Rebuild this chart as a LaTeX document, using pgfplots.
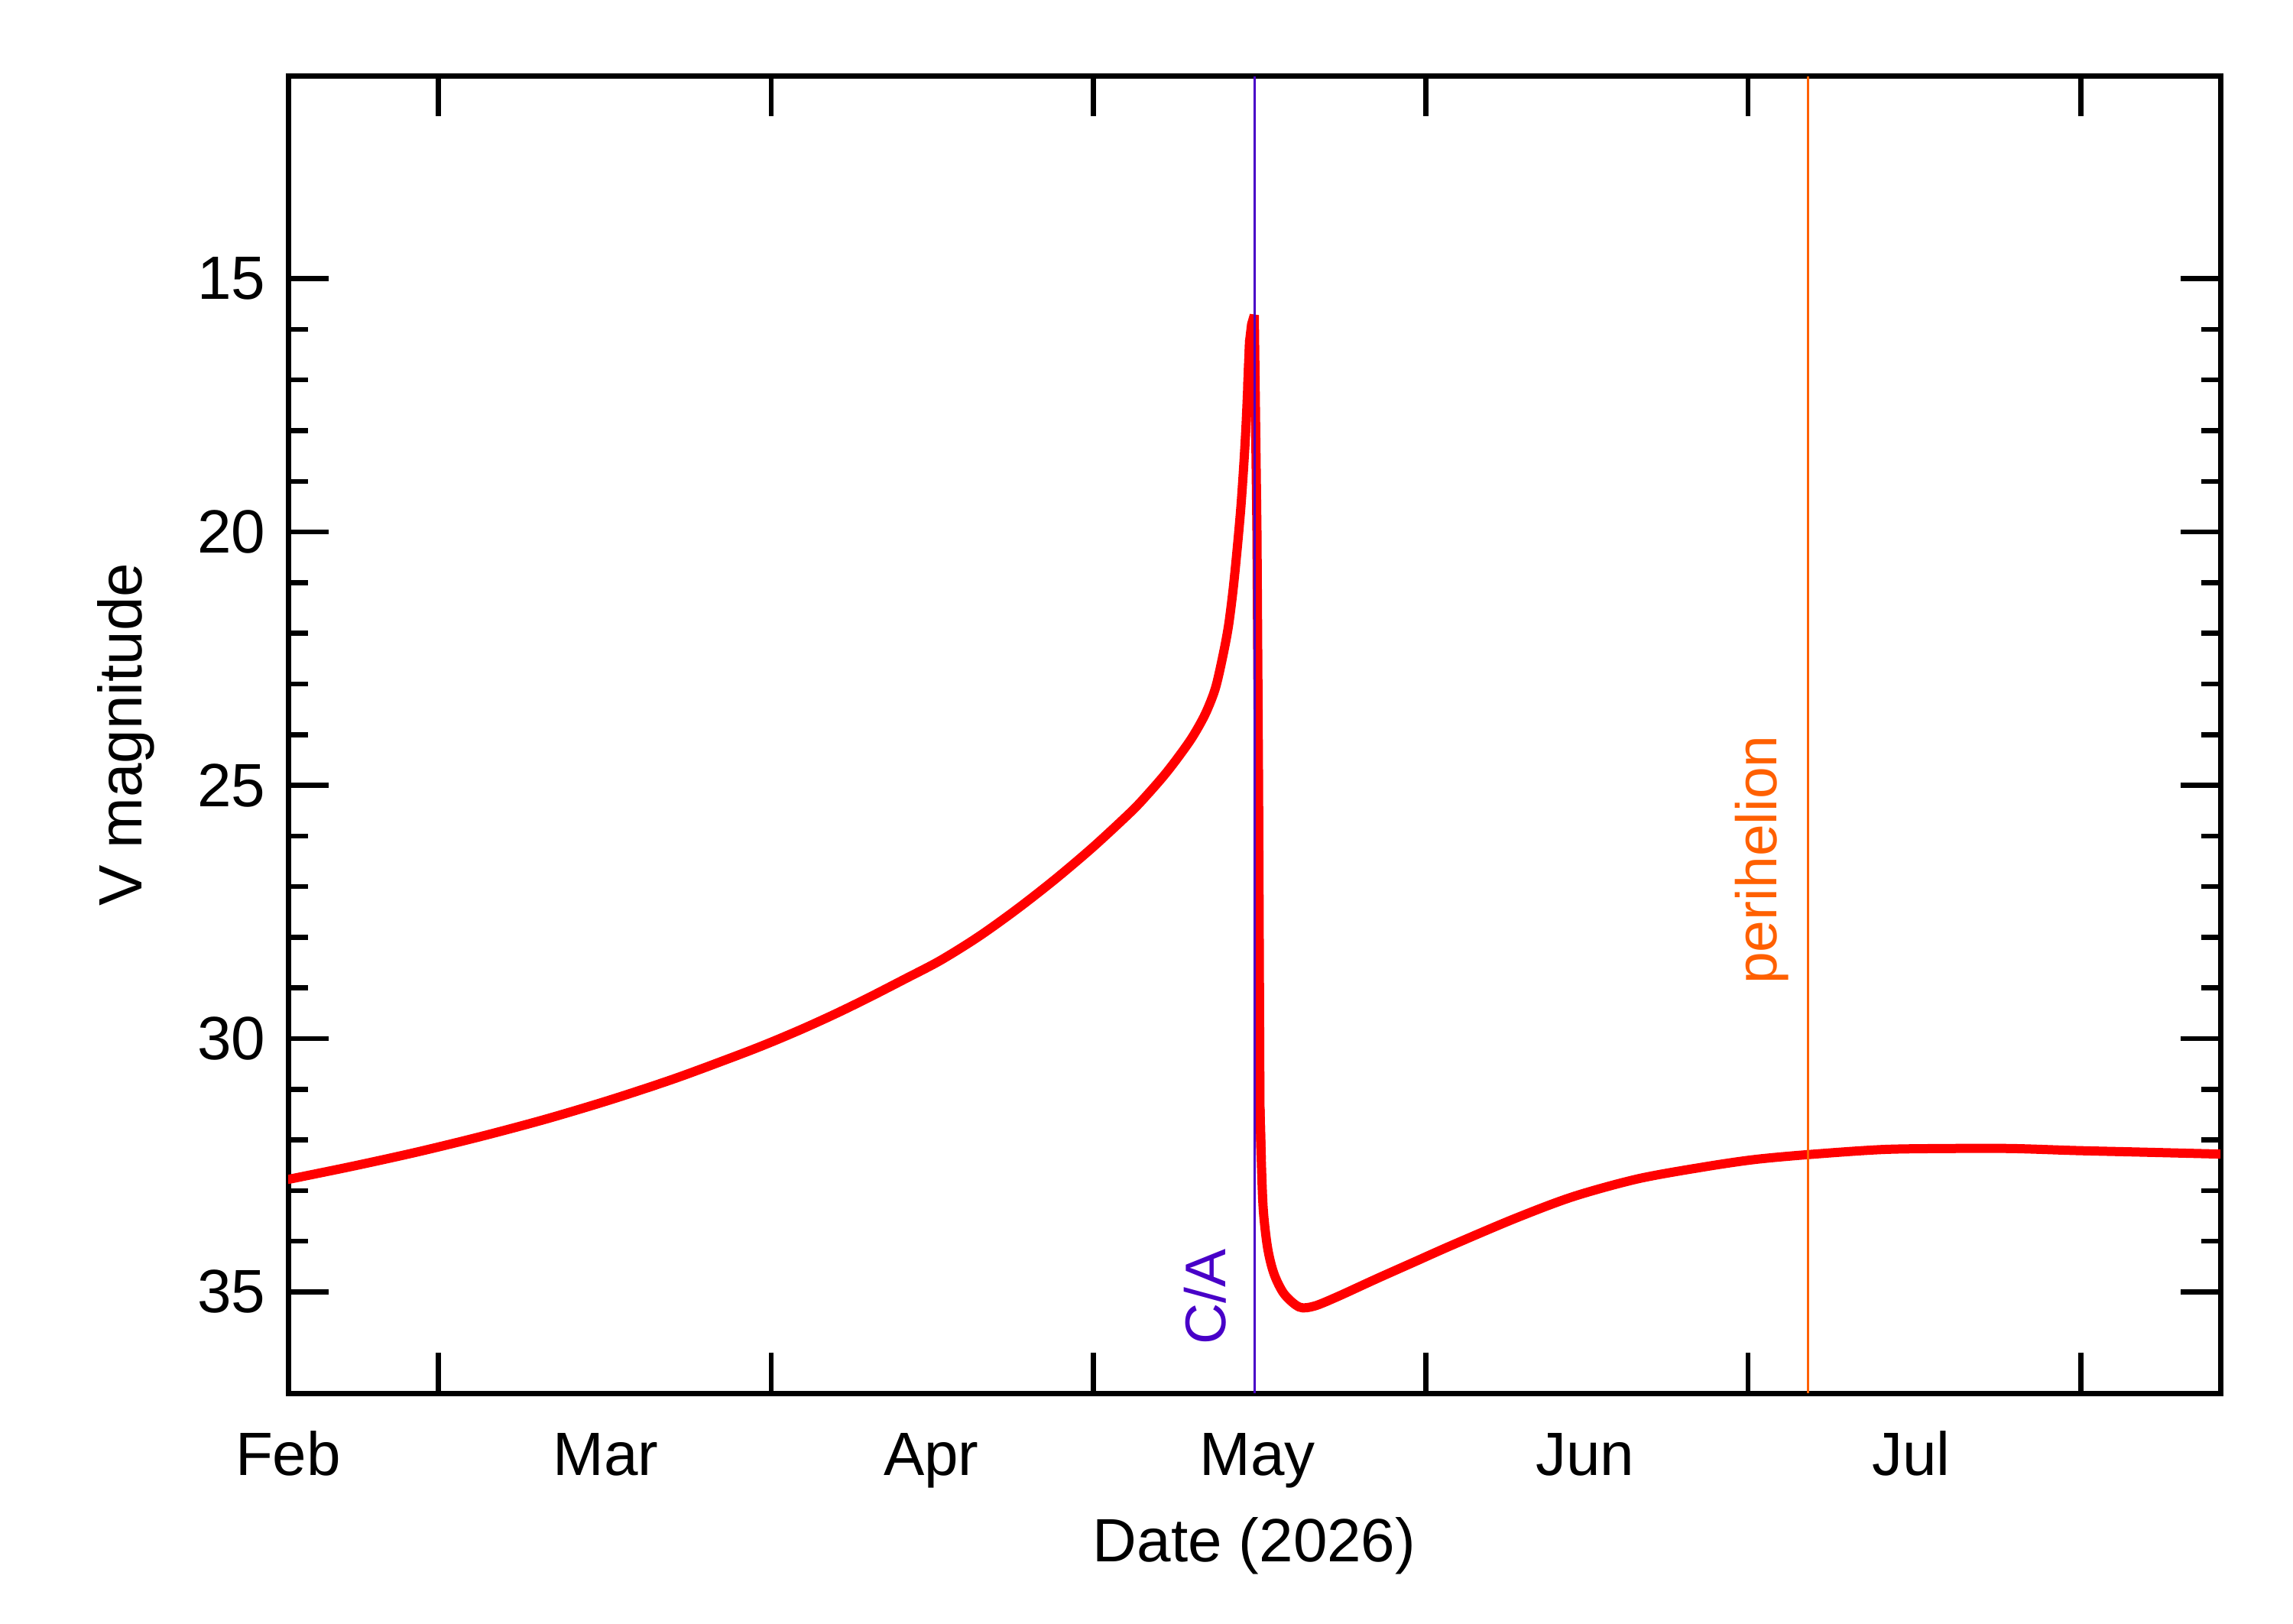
\documentclass[border=0pt]{standalone}
\usepackage{pgfplots}
\pgfplotsset{compat=1.18}
\usepackage{fontspec}
\setmainfont{Liberation Sans}
\definecolor{cacol}{RGB}{72,0,200}
\definecolor{pericol}{RGB}{255,96,0}
\definecolor{curvecol}{RGB}{255,0,0}
\begin{document}
\begin{tikzpicture}[font=\fontsize{16}{19}\selectfont]
\path (0,0) rectangle (600pt,425pt);
\begin{axis}[
  at={(75.4pt,60.4pt)}, anchor=south west,
  scale only axis, width=505.6pt, height=344.7pt,
  xmin=0, xmax=180, ymin=11, ymax=37, y dir=reverse,
  xtick={14,45,75,106,136,167}, xticklabels={},
  extra x ticks={0,29.6,59.9,90.3,120.8,151.2},
  extra x tick labels={Feb,Mar,Apr,May,Jun,Jul},
  extra x tick style={major tick length=0pt, xticklabel style={anchor=base, inner sep=0pt, yshift=-21.4pt}},
  ytick={15,20,25,30,35}, minor y tick num=4,
  yticklabel style={anchor=east, inner sep=0pt, xshift=-5.8pt},
  /pgf/number format/assume math mode=true,
  major tick length=10.5pt, minor tick length=5.1pt,
  tick align=inside,
  tick style={black, line width=1.3pt},
  axis line style={line width=1.4pt},
  xlabel={Date (2026)}, ylabel={V magnitude},
  xlabel style={at={(axis description cs:0.5,-0.1282)}, anchor=base, inner sep=0pt},
  ylabel style={at={(axis description cs:-0.0759,0.5)}, anchor=base, inner sep=0pt},
]
% approach to close approach
\addplot[curvecol, line width=2.4pt, smooth, line cap=round] coordinates {
(0,32.78) (6,32.52) (12,32.24) (18,31.93) (24,31.59) (30,31.21)
(36,30.79) (42,30.32) (45,30.07) (48,29.80) (51,29.51) (54,29.20) (57.4,28.83)
(60.74,28.46) (64.3,27.99) (67.86,27.45) (71.42,26.86) (74.98,26.22) (78.54,25.52)
(80.1,25.17) (81.62,24.80) (82.9,24.45) (84.23,24.05) (85.42,23.60) (86.37,23.09)
(87.09,22.43) (87.6,21.85) (88.03,21.13) (88.4,20.35) (88.74,19.54) (89.0,18.75)
(89.22,17.95) (89.4,17.10) (89.57,16.22)
};
% spike
\addplot[curvecol, line width=2.4pt, line join=bevel, line cap=round] coordinates {
(89.4,17.10) (89.57,16.22) (89.75,15.90) (90.0,15.72)
(90.25,20.0) (90.4,25.0) (90.53,31.37) (90.65,32.38)
};
% after close approach
\addplot[curvecol, line width=2.4pt, smooth, line cap=round] coordinates {
(90.53,31.37) (90.65,32.38) (90.84,33.38) (91.24,34.13) (91.83,34.64) (92.78,35.04)
(94.2,35.30) (95.6,35.28) (97.8,35.09) (101.3,34.75) (104.9,34.41) (108.4,34.08)
(114.3,33.55) (119.7,33.12) (125.7,32.77) (131.7,32.54) (136.5,32.39) (141.6,32.29)
(148.5,32.19) (154.5,32.17) (160.5,32.17) (166.5,32.21) (172.4,32.24) (180,32.28)
};
\addplot[cacol, line width=0.6pt] coordinates {(90.07,11) (90.07,37)};
\addplot[pericol, line width=0.7pt] coordinates {(141.6,11) (141.6,37)};
\node[rotate=90, anchor=base west, inner sep=0pt, text=cacol, font=\fontsize{15}{18}\selectfont] at (axis cs:87.3,36.06) {C/A};
\node[rotate=90, anchor=base west, inner sep=0pt, text=pericol, font=\fontsize{15}{18}\selectfont] at (axis cs:138.7,28.94) {perihelion};
\end{axis}
\end{tikzpicture}
\end{document}
